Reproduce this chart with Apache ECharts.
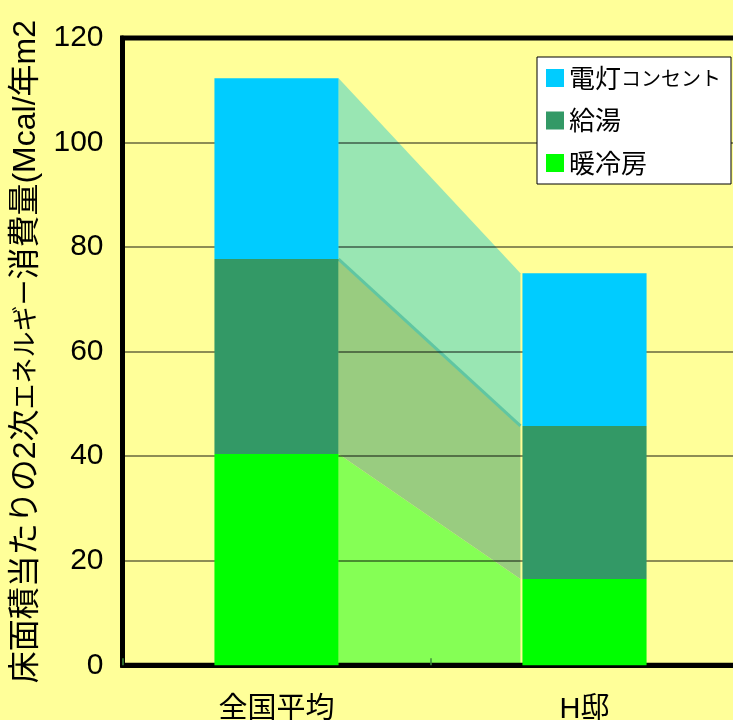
<!DOCTYPE html>
<html>
<head>
<meta charset="utf-8">
<script src="https://cdn.jsdelivr.net/npm/echarts@6/dist/echarts.min.js"></script>
<style>
  html, body { margin: 0; padding: 0; background: #ffff99; }
  #chart { width: 733px; height: 720px; }
</style>
</head>
<body>
<div id="chart"></div>
<script>
// 床面積当たりの2次エネルギー消費量 (Mcal/年m2)
const categories = ['全国平均', 'H邸'];
const heating = [40.4, 16.5];    // 暖冷房
const hotWater = [37.3, 29.3];   // 給湯
const lighting = [34.6, 29.2];   // 電灯コンセント
const seriesNames = ['暖冷房', '給湯', '電灯コンセント'];
const legendOrder = ['電灯コンセント', '給湯', '暖冷房'];
const yMin = 0, yMax = 120, yStep = 20;

const barColors = ['#00ff00', '#339966', '#00ccff'];
const bandColors = ['#85ff55', '#99cc80', '#99e6b3'];
const BAR_RATIO = 0.403;

// cumulative stack levels per category: 0, heating, +hot water, +lighting
const levels = categories.map((_, i) => [
  0,
  heating[i],
  heating[i] + hotWater[i],
  heating[i] + hotWater[i] + lighting[i]
]);

const baseFont = '"Liberation Sans", "Noto Sans CJK JP", sans-serif';
const cjkFont = '"Noto Sans CJK JP", sans-serif';

// translucent bands joining each stack segment of the two bars
function renderBand(params, api) {
  const k = api.value(2);
  const catW = api.size([1, 0])[0];
  const half = catW * BAR_RATIO / 2;
  const xl = api.coord([0, 0])[0] + half;
  const xr = api.coord([1, 0])[0] - half - 2;
  const y = (c, v) => api.coord([c, v])[1];
  const lo = k, hi = k + 1;
  const pts = [
    [xl, y(0, levels[0][hi])],
    [xr, y(1, levels[1][hi])],
    [xr, y(1, levels[1][lo])],
    [xl, y(0, levels[0][lo])]
  ];
  const children = [{
    type: 'polygon',
    shape: { points: pts },
    style: { fill: bandColors[k] }
  }];
  if (k === 2) {
    children.push({
      type: 'polyline',
      shape: { points: [pts[3], pts[2]] },
      style: { stroke: '#60c6a2', lineWidth: 3, fill: null }
    });
  }
  return { type: 'group', children };
}

const chart = echarts.init(document.getElementById('chart'));
chart.setOption({
  backgroundColor: '#ffff99',
  animation: false,
  textStyle: { fontFamily: baseFont, color: '#000' },
  grid: {
    left: 122.5, top: 38, width: 616, bottom: 54.7,
    outerBoundsMode: 'none',
    containLabel: false,
    show: true, borderColor: '#000', borderWidth: 5
  },
  legend: {
    data: legendOrder,
    orient: 'vertical',
    left: 537, top: 57,
    backgroundColor: '#ffffff',
    borderColor: '#000', borderWidth: 1,
    padding: [7, 10, 7, 9],
    itemWidth: 18, itemHeight: 18, itemGap: 14.5, itemTextGap: 9,
    icon: 'rect',
    formatter: name => name === '電灯コンセント'
      ? '{k|電灯}{n|コンセント}'
      : '{k|' + name + '}',
    textStyle: {
      color: '#000',
      fontFamily: cjkFont,
      lineHeight: 28,
      rich: {
        k: { fontSize: 26, fontFamily: cjkFont, color: '#000' },
        n: { fontSize: 20, fontFamily: cjkFont, color: '#000' }
      }
    }
  },
  xAxis: {
    type: 'category',
    data: categories,
    boundaryGap: true,
    axisLine: { show: true, lineStyle: { color: '#000', width: 5 } },
    axisTick: { show: true, inside: true, length: 7, lineStyle: { color: '#3c8c3c', width: 1.5 } },
    axisLabel: {
      margin: 30, fontSize: 29, color: '#000',
      fontFamily: baseFont
    },
    splitLine: { show: false }
  },
  yAxis: {
    type: 'value',
    min: yMin, max: yMax, interval: yStep,
    name: '{a|床面積当たりの2次}{k|エネルギー}{a|消費量(Mcal/年m2}',
    nameLocation: 'middle',
    nameRotate: 90,
    nameGap: 77,
    nameTextStyle: {
      color: '#000',
      rich: {
        a: { fontSize: 32, fontFamily: baseFont, color: '#000' },
        k: { fontSize: 26, fontFamily: baseFont, color: '#000' }
      }
    },
    axisLine: { show: true, lineStyle: { color: '#000', width: 5 } },
    axisTick: { show: false },
    axisLabel: {
      margin: 19, fontSize: 30, color: '#000',
      fontFamily: '"Liberation Sans", Arial, sans-serif'
    },
    splitLine: { show: true, lineStyle: { color: 'rgba(0,0,0,0.6)', width: 1.5 } }
  },
  series: [
    {
      type: 'custom',
      z: -1,
      silent: true,
      renderItem: renderBand,
      data: [[0, 0, 0], [0, 0, 1], [0, 0, 2]],
      encode: { x: 0, y: 1 }
    },
    { name: seriesNames[0], type: 'bar', stack: 'total', data: heating,
      barWidth: (BAR_RATIO * 100) + '%', itemStyle: { color: barColors[0] } },
    { name: seriesNames[1], type: 'bar', stack: 'total', data: hotWater,
      barWidth: (BAR_RATIO * 100) + '%', itemStyle: { color: barColors[1] } },
    { name: seriesNames[2], type: 'bar', stack: 'total', data: lighting,
      barWidth: (BAR_RATIO * 100) + '%', itemStyle: { color: barColors[2] } }
  ]
});
</script>
</body>
</html>
